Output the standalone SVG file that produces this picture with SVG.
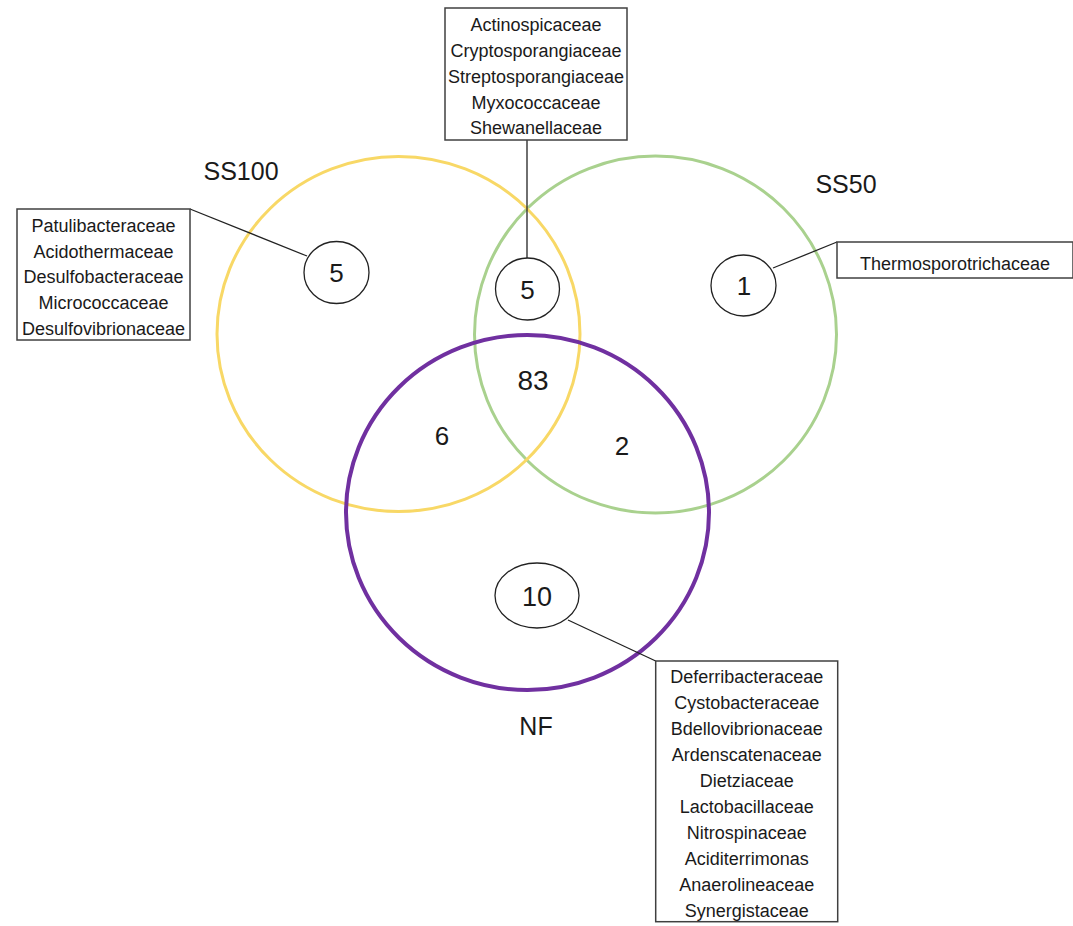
<svg xmlns="http://www.w3.org/2000/svg" width="1073" height="926" viewBox="0 0 1073 926">
<style>
text{font-family:"Liberation Sans",Arial,sans-serif;fill:#1a1a1a;text-anchor:middle}
.lst{font-size:18px}
.num{font-size:26px}
.set{font-size:25px}
.box{fill:#fff;stroke:#404040;stroke-width:1.5}
.bub{fill:#fff;stroke:#222;stroke-width:1.3}
.con{stroke:#222;stroke-width:1.3;fill:none}
</style>
<rect width="1073" height="926" fill="#fff"/>
<g id="sets">
<ellipse id="ss50-set" cx="655.5" cy="334.5" rx="181" ry="178.5" fill="none" stroke="#A9D18E" stroke-width="3"/>
<ellipse id="ss100-set" cx="398.5" cy="334" rx="181.5" ry="177.5" fill="none" stroke="#F8D866" stroke-width="3"/>
<ellipse id="nf-set" cx="527.5" cy="512.5" rx="181.5" ry="177.5" fill="none" stroke="#7030A0" stroke-width="4"/>
</g>
<g id="connectors">
<line class="con" x1="190" y1="209" x2="307" y2="256"/>
<line class="con" x1="527" y1="140" x2="527" y2="258"/>
<line class="con" x1="773" y1="268" x2="837" y2="242"/>
<line class="con" x1="568" y1="620" x2="655.7" y2="661"/>
</g>
<g id="labels">
<text class="set" x="241" y="180">SS100</text>
<text class="set" x="846" y="193">SS50</text>
<text class="set" x="536" y="735">NF</text>
<text class="num" x="533" y="390" style="font-size:28px">83</text>
<text class="num" x="442" y="445">6</text>
<text class="num" x="622" y="455">2</text>
</g>
<g id="ss100-only">
<ellipse class="bub" cx="336.5" cy="272.5" rx="32.5" ry="31"/>
<text class="num" x="336.5" y="282">5</text>
</g>
<g id="ss100-ss50">
<ellipse class="bub" cx="527.5" cy="289" rx="32" ry="31"/>
<text class="num" x="527.5" y="298.5">5</text>
</g>
<g id="ss50-only">
<ellipse class="bub" cx="743.5" cy="285.5" rx="32.5" ry="30.5"/>
<text class="num" x="744" y="295">1</text>
</g>
<g id="nf-only">
<ellipse class="bub" cx="537" cy="595.5" rx="42" ry="32.5"/>
<text class="num" x="537" y="606" style="font-size:27px">10</text>
</g>
<g id="box-ss100">
<rect class="box" x="17" y="209" width="173" height="131"/>
<text class="lst" x="103.5" y="232">Patulibacteraceae</text>
<text class="lst" x="103.5" y="257.7">Acidothermaceae</text>
<text class="lst" x="103.5" y="283.3">Desulfobacteraceae</text>
<text class="lst" x="103.5" y="309.3">Micrococcaceae</text>
<text class="lst" x="103.5" y="335">Desulfovibrionaceae</text>
</g>
<g id="box-ss100-ss50">
<rect class="box" x="445" y="8" width="182" height="132"/>
<text class="lst" x="536" y="31">Actinospicaceae</text>
<text class="lst" x="536" y="57">Cryptosporangiaceae</text>
<text class="lst" x="536" y="83">Streptosporangiaceae</text>
<text class="lst" x="536" y="109">Myxococcaceae</text>
<text class="lst" x="536" y="134">Shewanellaceae</text>
</g>
<g id="box-ss50">
<rect class="box" x="837" y="242" width="236" height="36"/>
<text class="lst" x="955" y="270">Thermosporotrichaceae</text>
</g>
<g id="box-nf">
<rect class="box" x="655.7" y="661" width="182" height="260.7"/>
<text class="lst" x="746.7" y="683">Deferribacteraceae</text>
<text class="lst" x="746.7" y="709">Cystobacteraceae</text>
<text class="lst" x="746.7" y="735.3">Bdellovibrionaceae</text>
<text class="lst" x="746.7" y="761">Ardenscatenaceae</text>
<text class="lst" x="746.7" y="787">Dietziaceae</text>
<text class="lst" x="746.7" y="812.7">Lactobacillaceae</text>
<text class="lst" x="746.7" y="838.7">Nitrospinaceae</text>
<text class="lst" x="746.7" y="865">Aciditerrimonas</text>
<text class="lst" x="746.7" y="891">Anaerolineaceae</text>
<text class="lst" x="746.7" y="916.7">Synergistaceae</text>
</g>
</svg>
